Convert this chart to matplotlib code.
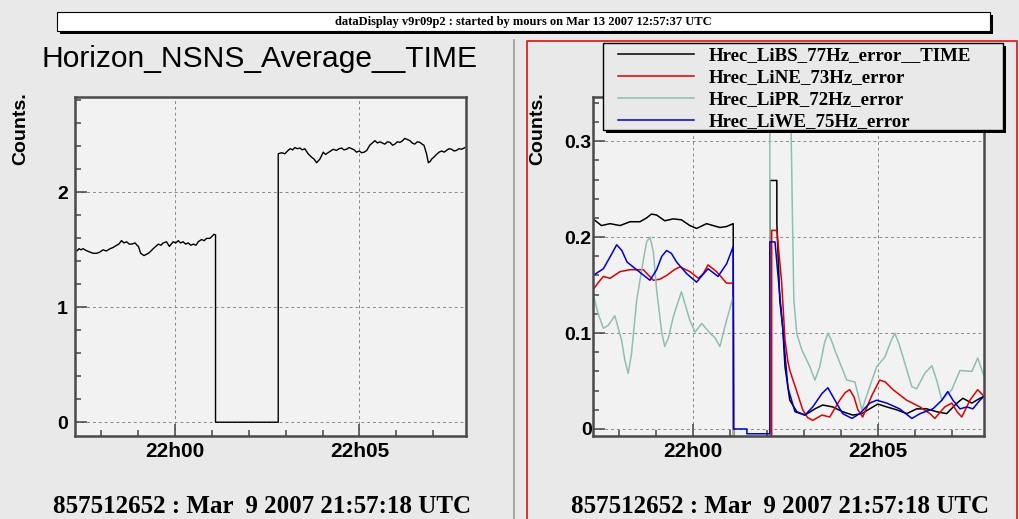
import matplotlib
matplotlib.use('Agg')
import matplotlib.pyplot as plt
from matplotlib.patches import Rectangle
from matplotlib.lines import Line2D
from matplotlib.ticker import MultipleLocator

# time axis is in minutes after 22:00 UTC
tick_pos = [0, 5]
tick_labels = ['22h00', '22h05']

header = 'dataDisplay v9r09p2 : started by mours on Mar 13 2007 12:57:37 UTC'
left_title = 'Horizon_NSNS_Average__TIME'
footer = '857512652 : Mar  9 2007 21:57:18 UTC'

# left pad: Horizon_NSNS_Average__TIME
avg_t = [-2.71, -2.66, -2.60, -2.55, -2.49, -2.44, -2.38, -2.30, -2.22, -2.12, -2.04,
         -1.95, -1.86, -1.76, -1.68, -1.58, -1.52, -1.45, -1.38, -1.31, -1.24, -1.17,
         -1.08, -1.03, -0.99, -0.93, -0.84, -0.78, -0.72, -0.65, -0.59, -0.52, -0.45,
         -0.38, -0.32, -0.23, -0.15, -0.10, -0.05, 0.02, 0.09, 0.15, 0.22, 0.29, 0.36,
         0.43, 0.50, 0.57, 0.63, 0.72, 0.79, 0.86, 0.95, 1.01, 1.06, 1.10, 1.10,
         2.80, 2.80, 2.89, 2.98, 3.05, 3.12, 3.19, 3.25, 3.32, 3.39, 3.45, 3.52, 3.61,
         3.70, 3.77, 3.84, 3.93, 4.02, 4.08, 4.15, 4.22, 4.29, 4.38, 4.45, 4.52, 4.58,
         4.65, 4.72, 4.79, 4.86, 4.92, 5.00, 5.06, 5.13, 5.20, 5.28, 5.35, 5.42, 5.49,
         5.56, 5.62, 5.69, 5.76, 5.83, 5.90, 5.96, 6.03, 6.10, 6.17, 6.23, 6.30, 6.37,
         6.43, 6.50, 6.57, 6.64, 6.70, 6.75, 6.82, 6.87, 6.92, 6.96, 7.03, 7.09, 7.16,
         7.23, 7.30, 7.36, 7.43, 7.50, 7.57, 7.63, 7.70, 7.77, 7.86]
avg_v = [1.50, 1.49, 1.51, 1.50, 1.51, 1.50, 1.49, 1.48, 1.47, 1.47, 1.48,
         1.50, 1.49, 1.51, 1.52, 1.54, 1.55, 1.58, 1.56, 1.57, 1.55, 1.55,
         1.56, 1.54, 1.53, 1.47, 1.45, 1.46, 1.47, 1.49, 1.51, 1.53, 1.55,
         1.54, 1.56, 1.57, 1.53, 1.55, 1.57, 1.56, 1.58, 1.56, 1.57, 1.55, 1.56,
         1.54, 1.55, 1.54, 1.57, 1.59, 1.58, 1.60, 1.60, 1.62, 1.635, 1.63, 0.0,
         0.0, 2.336, 2.345, 2.336, 2.36, 2.38, 2.37, 2.39, 2.38, 2.386, 2.37, 2.38, 2.336,
         2.307, 2.29, 2.258, 2.29, 2.35, 2.33, 2.345, 2.36, 2.375, 2.365, 2.38, 2.386, 2.37,
         2.375, 2.39, 2.38, 2.37, 2.35, 2.36, 2.345, 2.35, 2.365, 2.41, 2.43, 2.45, 2.43,
         2.44, 2.43, 2.42, 2.44, 2.435, 2.41, 2.42, 2.44, 2.435, 2.45, 2.47, 2.46, 2.45,
         2.43, 2.42, 2.44, 2.435, 2.42, 2.41, 2.336, 2.258, 2.27, 2.29, 2.31, 2.33, 2.35,
         2.36, 2.35, 2.365, 2.38, 2.375, 2.36, 2.365, 2.38, 2.375, 2.39]

# right pad: the four error channels
libs_t = [-2.70, -2.47, -2.24, -1.97, -1.70, -1.43, -1.25, -1.12, -0.98, -0.76, -0.53, -0.31,
          -0.08, 0.10, 0.37, 0.55, 0.73, 0.91, 1.09, 1.10, 2.08, 2.08, 2.27, 2.27, 2.35,
          2.43, 2.49, 2.62, 2.81, 3.03, 3.30, 3.51, 3.78, 4.05, 4.32, 4.57, 4.78, 5.00,
          5.24, 5.51, 5.78, 6.05, 6.32, 6.59, 6.86, 7.14, 7.30, 7.54, 7.76, 7.87]
libs_v = [0.219, 0.212, 0.214, 0.212, 0.216, 0.216, 0.220, 0.224, 0.223, 0.217, 0.219, 0.218,
          0.212, 0.209, 0.214, 0.212, 0.210, 0.211, 0.214, -0.01, -0.01, 0.259, 0.259, 0.215, 0.134,
          0.105, 0.065, 0.030, 0.018, 0.0145, 0.021, 0.025, 0.023, 0.018, 0.0145, 0.016, 0.021, 0.026,
          0.023, 0.020, 0.016, 0.021, 0.021, 0.018, 0.016, 0.027, 0.032, 0.027, 0.032, 0.034]

line_t = [-2.70, -2.55, -2.42, -2.24, -1.97, -1.70, -1.34, -1.07, -0.90, -0.71, -0.50, -0.35,
          -0.08, 0.15, 0.28, 0.41, 0.64, 0.91, 1.09, 1.10, 2.13, 2.13, 2.27, 2.40, 2.49,
          2.57, 2.62, 2.81, 2.97, 3.10, 3.24, 3.49, 3.70, 3.97, 4.12, 4.24, 4.36, 4.46,
          4.59, 4.84, 5.05, 5.20, 5.41, 5.78, 6.14, 6.41, 6.54, 6.81, 7.00, 7.14, 7.27,
          7.49, 7.70, 7.87]
line_v = [0.145, 0.153, 0.159, 0.157, 0.164, 0.166, 0.166, 0.155, 0.156, 0.160, 0.166, 0.169,
          0.164, 0.157, 0.162, 0.171, 0.164, 0.152, 0.152, -0.01, -0.01, 0.207, 0.207, 0.153, 0.093,
          0.070, 0.061, 0.039, 0.020, 0.012, 0.009, 0.0145, 0.0125, 0.030, 0.038, 0.041, 0.033, 0.020,
          0.0125, 0.035, 0.051, 0.049, 0.041, 0.030, 0.023, 0.016, 0.011, 0.023, 0.027, 0.018, 0.0125,
          0.030, 0.041, 0.034]

lipr_t = [-2.70, -2.56, -2.42, -2.29, -2.11, -1.93, -1.84, -1.75, -1.66, -1.52, -1.34, -1.25,
          -1.16, -1.07, -0.98, -0.84, -0.76, -0.66, -0.53, -0.31, -0.08, 0.06, 0.24, 0.46, 0.60,
          0.73, 0.91, 1.09, 1.10, 2.08, 2.08, 2.62, 2.70, 2.73, 2.81, 2.95, 3.16, 3.30,
          3.43, 3.56, 3.65, 3.74, 3.84, 4.16, 4.38, 4.57, 4.78, 4.97, 5.19, 5.36, 5.46,
          5.56, 5.68, 5.92, 6.05, 6.27, 6.46, 6.59, 6.73, 7.00, 7.22, 7.54, 7.70, 7.87]
lipr_v = [0.141, 0.120, 0.105, 0.108, 0.118, 0.093, 0.072, 0.058, 0.078, 0.134, 0.176, 0.195,
          0.200, 0.185, 0.145, 0.100, 0.086, 0.095, 0.117, 0.143, 0.113, 0.101, 0.110, 0.100, 0.095,
          0.086, 0.113, 0.138, -0.01, -0.01, 0.40, 0.40, 0.200, 0.134, 0.099, 0.082, 0.065, 0.051,
          0.065, 0.090, 0.0997, 0.093, 0.082, 0.051, 0.049, 0.020, 0.044, 0.065, 0.075, 0.092, 0.0997,
          0.090, 0.075, 0.044, 0.042, 0.058, 0.066, 0.051, 0.030, 0.041, 0.061, 0.060, 0.074, 0.055]

liwe_t = [-2.70, -2.42, -2.20, -2.06, -1.92, -1.78, -1.52, -1.16, -0.98, -0.84, -0.71, -0.58,
          -0.44, -0.17, 0.10, 0.25, 0.41, 0.68, 0.91, 1.09, 1.10, 1.46, 1.46, 2.08, 2.08,
          2.22, 2.43, 2.57, 2.76, 3.03, 3.24, 3.49, 3.65, 3.84, 4.05, 4.30, 4.51, 4.78,
          4.97, 5.24, 5.59, 5.92, 6.14, 6.49, 6.73, 6.89, 7.03, 7.22, 7.41, 7.57, 7.76, 7.87]
liwe_v = [0.160, 0.167, 0.182, 0.192, 0.186, 0.174, 0.166, 0.155, 0.166, 0.180, 0.186, 0.183,
          0.174, 0.162, 0.153, 0.160, 0.167, 0.159, 0.172, 0.190, 0.0, 0.0, -0.005, -0.005, 0.195,
          0.195, 0.105, 0.043, 0.018, 0.0145, 0.023, 0.037, 0.043, 0.030, 0.016, 0.011, 0.016, 0.027,
          0.030, 0.027, 0.021, 0.011, 0.016, 0.021, 0.030, 0.039, 0.030, 0.021, 0.023, 0.021, 0.030,
          0.034]

channels = ['Hrec_LiBS_77Hz_error__TIME', 'Hrec_LiNE_73Hz_error',
            'Hrec_LiPR_72Hz_error', 'Hrec_LiWE_75Hz_error']
colors = ['#000000', '#dd0000', '#8fbfae', '#0000cc']

W, H = 1019, 519
BG = '#e9e9e9'
SANS = 'Liberation Sans'
SERIF = 'Liberation Serif'


def fx(px):
    return px / W


def fy(py):
    return 1 - py / H


def style_axes(ax, yticks, ylabels, ymin_step, ypad):
    ax.set_facecolor('#f2f2f2')
    ax.set_xticks(tick_pos, tick_labels, fontfamily=SANS, fontweight='bold', fontsize=15)
    ax.set_yticks(yticks, ylabels, fontfamily=SANS, fontweight='bold', fontsize=14)
    ax.xaxis.set_minor_locator(MultipleLocator(1))
    ax.yaxis.set_minor_locator(MultipleLocator(ymin_step))
    ax.tick_params(which='both', direction='in', top=False, right=False, color='#444444')
    ax.tick_params(which='major', length=8.5, width=1.1)
    ax.tick_params(which='minor', length=4, width=1.1)
    ax.tick_params(axis='x', pad=4)
    ax.tick_params(axis='y', pad=ypad)
    ax.grid(True, which='major', ls=(0, (3, 3)), color='#888888', lw=0.7)
    ax.set_axisbelow(True)
    for s in ax.spines.values():
        s.set_linewidth(1.8)
        s.set_color('#4a4a4a')


fig = plt.figure(figsize=(W / 100, H / 100), dpi=100, facecolor=BG)

# header box with shadow
fig.patches.append(Rectangle((fx(60), fy(34)), fx(933), 19 / H, transform=fig.transFigure,
                             facecolor='black', edgecolor='none', zorder=1))
fig.patches.append(Rectangle((fx(57), fy(31)), fx(933), 19 / H, transform=fig.transFigure,
                             facecolor='white', edgecolor='black', lw=0.8, zorder=2))
fig.text(fx(523), fy(21.5), header, ha='center', va='center', fontfamily=SERIF,
         fontweight='bold', fontsize=9)

# pad borders
fig.add_artist(Line2D([fx(514), fx(514)], [fy(40), 0], color='#999999', lw=1.2))
fig.add_artist(Line2D([fx(527), fx(527), fx(1017), fx(1017)], [0, fy(41), fy(41), 0],
                      color='#dd2222', lw=1.3))

# left pad
ax1 = fig.add_axes([fx(75), fy(436), fx(391), 339 / H])
ax1.plot(avg_t, avg_v, color='black', lw=1.0)
ax1.set_xlim(-2.71, 7.89)
ax1.set_ylim(-0.12, 2.83)
style_axes(ax1, [0, 1, 2], ['0', '1', '2'], 0.2, 5)
fig.text(fx(260), fy(67), left_title, ha='center', va='baseline', fontfamily=SANS, fontsize=21.6)
fig.text(fx(21), fy(129), 'Counts.', rotation=90, ha='center', va='center',
         fontfamily=SANS, fontweight='bold', fontsize=14)
fig.text(fx(262), fy(513), footer, ha='center', va='baseline', fontfamily=SERIF,
         fontweight='bold', fontsize=18)

# right pad
ax2 = fig.add_axes([fx(593), fy(436), fx(391), 339 / H])
series = [(libs_t, libs_v), (line_t, line_v), (lipr_t, lipr_v), (liwe_t, liwe_v)]
handles = []
for (t, v), name, c in zip(series, channels, colors):
    h, = ax2.plot(t, v, color=c, lw=1.1, label=name)
    handles.append(h)
ax2.set_xlim(-2.70, 7.87)
ax2.set_ylim(-0.0073, 0.346)
style_axes(ax2, [0, 0.1, 0.2, 0.3], ['0', '0.1', '0.2', '0.3'], 0.02, 1)
fig.text(fx(538), fy(129), 'Counts.', rotation=90, ha='center', va='center',
         fontfamily=SANS, fontweight='bold', fontsize=14)
fig.text(fx(780), fy(513), footer, ha='center', va='baseline', fontfamily=SERIF,
         fontweight='bold', fontsize=18)

# legend box with shadow
fig.patches.append(Rectangle((fx(606), fy(133)), fx(400), 87 / H, transform=fig.transFigure,
                             facecolor='black', edgecolor='none', zorder=3))
fig.patches.append(Rectangle((fx(603), fy(130)), fx(400), 87 / H, transform=fig.transFigure,
                             facecolor=BG, edgecolor='black', lw=1.0, zorder=3.1))
fig.legend(handles=handles, loc='upper left', bbox_to_anchor=(fx(603), fy(32)),
           bbox_transform=fig.transFigure, frameon=False, borderpad=0.8, borderaxespad=0,
           handlelength=4.0, handletextpad=0.8, labelspacing=0.25,
           prop={'family': SERIF, 'weight': 'bold', 'size': 13.6})

fig.savefig('out.png', dpi=100, facecolor=BG)
